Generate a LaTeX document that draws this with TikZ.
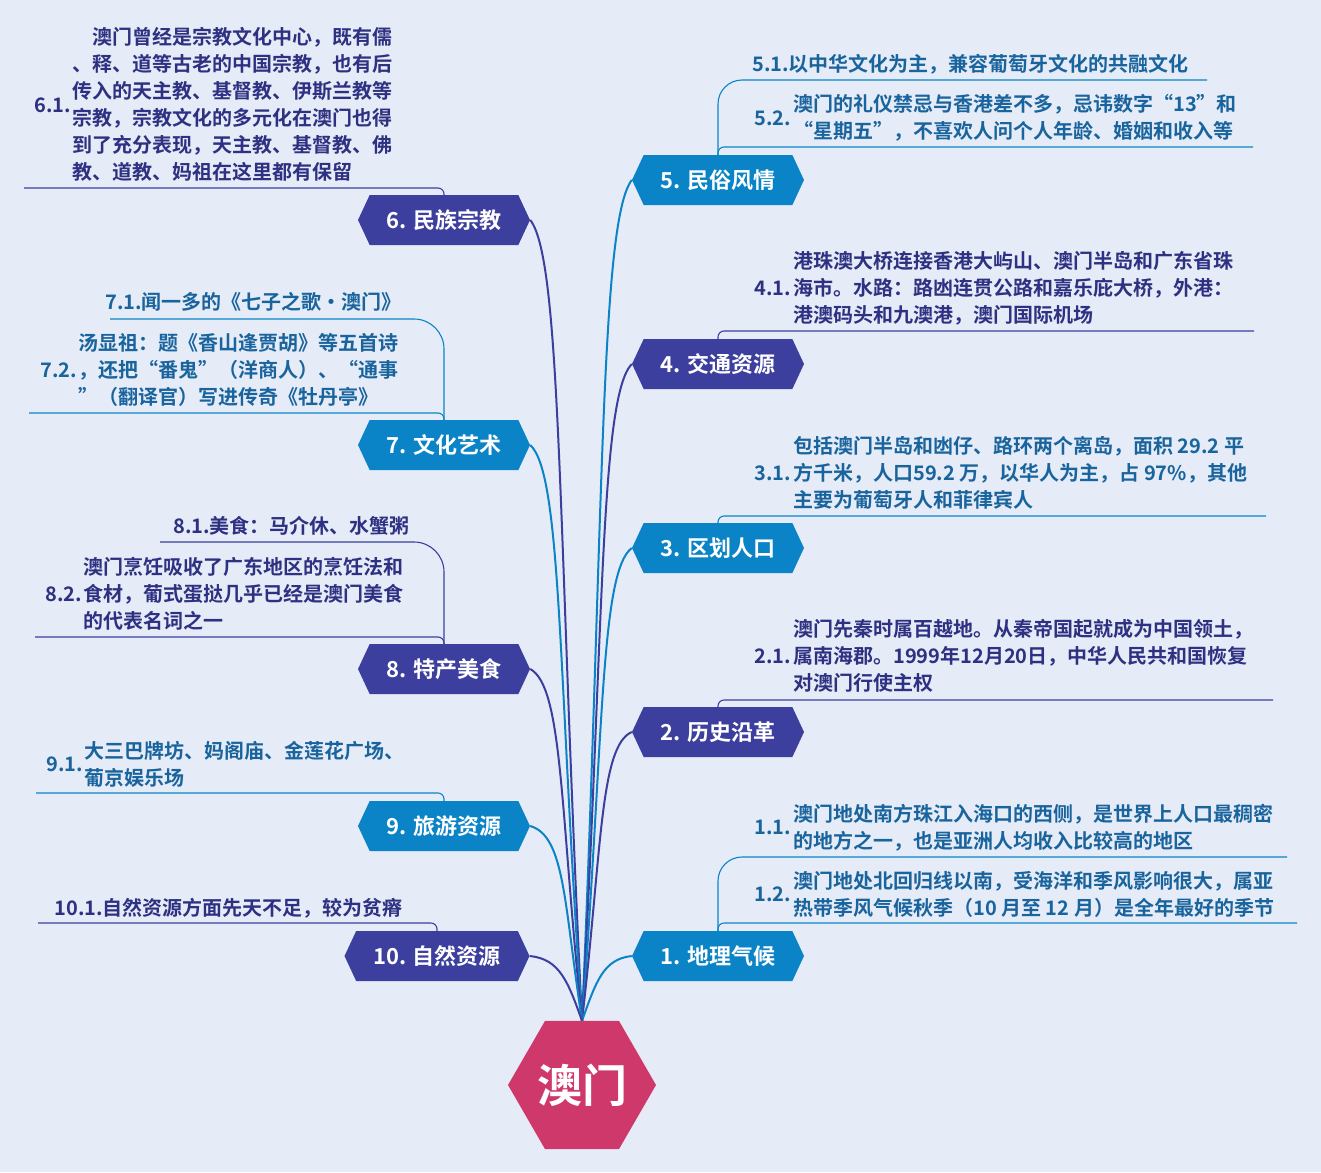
\documentclass[tikz,border=0pt]{standalone}
\usepackage{fontspec}
\setmainfont{Noto Sans CJK SC}[BoldFont={Noto Sans CJK SC Bold}]
\usetikzlibrary{shapes.geometric,shapes.symbols,backgrounds}
\definecolor{bgc}{HTML}{E5ECF7}
\definecolor{bluec}{HTML}{0A84C6}
\definecolor{indc}{HTML}{3C3F9E}
\definecolor{bluet}{HTML}{1A649E}
\definecolor{indt}{HTML}{2E3182}
\definecolor{hubc}{HTML}{CF386A}
\newcommand{\subf}{\fontsize{20}{27}\selectfont\bfseries}
\begin{document}
\begin{tikzpicture}[x=1pt,y=-1pt,
  branch/.style={shape=signal, signal to=east and west, signal pointer angle=130,
    minimum width=172pt, minimum height=50pt, inner sep=0pt, text=white,
    font=\fontsize{22}{26}\selectfont\bfseries},
  subt/.style={inner sep=0pt, align=left, font=\subf},
  ul/.style={line width=1.1pt},
  conn/.style={line width=2pt}]
\begin{pgfonlayer}{background}
\fill[bgc] (0,0) rectangle (1321,1172);
\end{pgfonlayer}
\useasboundingbox (0,0) rectangle (1321,1172);

% hub
\node[regular polygon, regular polygon sides=6, minimum size=148pt, inner sep=0pt,
  fill=hubc, text=white, font=\fontsize{45}{48}\selectfont\bfseries] (ctr) at (582,1085) {澳门};

% right branches
\node[branch, fill=bluec] (n5) at (718,180) {5. 民俗风情};
\node[branch, fill=indc] (n4) at (718,364) {4. 交通资源};
\node[branch, fill=bluec] (n3) at (718,548) {3. 区划人口};
\node[branch, fill=indc] (n2) at (718,732) {2. 历史沿革};
\node[branch, fill=bluec] (n1) at (718,956) {1. 地理气候};
% left branches
\node[branch, fill=indc] (n6) at (444,220) {6. 民族宗教};
\node[branch, fill=bluec] (n7) at (444,445) {7. 文化艺术};
\node[branch, fill=indc] (n8) at (444,669) {8. 特产美食};
\node[branch, fill=bluec] (n9) at (444,826) {9. 旅游资源};
\node[branch, fill=indc, minimum width=185pt] (n10) at (437,956) {10. 自然资源};

% right texts (multi-line nodes: base = last line baseline)
\node[subt, text=bluet, anchor=base west] (t51) at (752,71) {5.1.以中华文化为主，兼容葡萄牙文化的共融文化};
\node[subt, text=bluet, anchor=base east] (l52) at (791,125) {5.2.};
\node[subt, text=bluet, anchor=base west] (t52) at (793,138) {澳门的礼仪禁忌与香港差不多，忌讳数字“13”和\\“星期五”，不喜欢人问个人年龄、婚姻和收入等};
\node[subt, text=indt, anchor=base east] (l41) at (791,295) {4.1.};
\node[subt, text=indt, anchor=base west] (t41) at (793,322) {港珠澳大桥连接香港大屿山、澳门半岛和广东省珠\\海市。水路：路凼连贯公路和嘉乐庇大桥，外港：\\港澳码头和九澳港，澳门国际机场};
\node[subt, text=bluet, anchor=base east] (l31) at (791,480) {3.1.};
\node[subt, text=bluet, anchor=base west] (t31) at (793,507) {包括澳门半岛和凼仔、路环两个离岛，面积 29.2 平\\方千米，人口59.2 万，以华人为主，占 97\%，其他\\主要为葡萄牙人和菲律宾人};
\node[subt, text=indt, anchor=base east] (l21) at (791,663) {2.1.};
\node[subt, text=indt, anchor=base west] (t21) at (793,690) {澳门先秦时属百越地。从秦帝国起就成为中国领土，\\属南海郡。1999年12月20日，中华人民共和国恢复\\对澳门行使主权};
\node[subt, text=bluet, anchor=base east] (l11) at (791,834) {1.1.};
\node[subt, text=bluet, anchor=base west] (t11) at (793,848) {澳门地处南方珠江入海口的西侧，是世界上人口最稠密\\的地方之一，也是亚洲人均收入比较高的地区};
\node[subt, text=bluet, anchor=base east] (l12) at (791,901) {1.2.};
\node[subt, text=bluet, anchor=base west] (t12) at (793,915) {澳门地处北回归线以南，受海洋和季风影响很大，属亚\\热带季风气候秋季（10 月至 12 月）是全年最好的季节};

% left texts
\node[subt, text=indt, anchor=base east] (l61) at (71,112) {6.1.};
\node[subt, text=indt, anchor=base west] (t61) at (72,179) {\hspace*{20pt}澳门曾经是宗教文化中心，既有儒\\、释、道等古老的中国宗教，也有后\\传入的天主教、基督教、伊斯兰教等\\宗教，宗教文化的多元化在澳门也得\\到了充分表现，天主教、基督教、佛\\教、道教、妈祖在这里都有保留};
\node[subt, text=bluet, anchor=base east] (t71) at (402,309) {7.1.闻一多的《七子之歌•澳门》};
\node[subt, text=bluet, anchor=base east] (l72) at (77,377) {7.2.};
\node[subt, text=bluet, anchor=base west] (t72) at (78,404) {汤显祖：题《香山逢贾胡》等五首诗\\，还把“番鬼”（洋商人）、“通事\\”（翻译官）写进传奇《牡丹亭》};
\node[subt, text=indt, anchor=base east] (t81) at (410,533) {8.1.美食：马介休、水蟹粥};
\node[subt, text=indt, anchor=base east] (l82) at (82,601) {8.2.};
\node[subt, text=indt, anchor=base west] (t82) at (83,628) {澳门烹饪吸收了广东地区的烹饪法和\\食材，葡式蛋挞几乎已经是澳门美食\\的代表名词之一};
\node[subt, text=bluet, anchor=base east] (l91) at (83,771) {9.1.};
\node[subt, text=bluet, anchor=base west] (t91) at (84,785) {大三巴牌坊、妈阁庙、金莲花广场、\\葡京娱乐场};
\node[subt, text=indt, anchor=base east] (t101) at (403,915) {10.1.自然资源方面先天不足，较为贫瘠};

% underlines / sub connectors
\draw[ul, bluec, rounded corners=24pt] (n5.north) |- (1207,80);
\draw[ul, bluec, rounded corners=6pt] (n5.north) |- (1253,147);
\draw[ul, indc, rounded corners=6pt] (n4.north) |- (1254,331);
\draw[ul, bluec, rounded corners=6pt] (n3.north) |- (1266,516);
\draw[ul, indc, rounded corners=6pt] (n2.north) |- (1273,700);
\draw[ul, bluec, rounded corners=24pt] (n1.north) |- (1287,857);
\draw[ul, bluec, rounded corners=6pt] (n1.north) |- (1297,923);

\draw[ul, indc, rounded corners=6pt] (n6.north) |- (24,188);
\draw[ul, bluec, rounded corners=30pt] (n7.north) |- (110,319);
\draw[ul, bluec, rounded corners=6pt] (n7.north) |- (29,413);
\draw[ul, indc, rounded corners=30pt] (n8.north) |- (160,542);
\draw[ul, indc, rounded corners=6pt] (n8.north) |- (35,637);
\draw[ul, bluec, rounded corners=6pt] (n9.north) |- (36,793);
\draw[ul, indc, rounded corners=6pt] (n10.north) |- (38,923);

% main connectors
\begin{pgfonlayer}{background}
\draw[conn, bluec] (ctr.north) .. controls (604,516) and (600,222) .. (n5.west);
\draw[conn, indc] (ctr.north) .. controls (604,627) and (600,397) .. (n4.west);
\draw[conn, bluec] (ctr.north) .. controls (604,737) and (600,572) .. (n3.west);
\draw[conn, indc] (ctr.north) .. controls (602,848) and (600,746) .. (n2.west);
\draw[conn, bluec] (ctr.north) .. controls (596,982) and (603,959) .. (n1.west);
\draw[conn, indc] (ctr.north) .. controls (558,540) and (562,260) .. (n6.east);
\draw[conn, bluec] (ctr.north) .. controls (558,675) and (562,474) .. (n7.east);
\draw[conn, indc] (ctr.north) .. controls (560,810) and (563,687) .. (n8.east);
\draw[conn, bluec] (ctr.north) .. controls (564,904) and (565,836) .. (n9.east);
\draw[conn, indc] (ctr.north) .. controls (568,982) and (560,959) .. (n10.east);
\end{pgfonlayer}
\end{tikzpicture}
\end{document}
